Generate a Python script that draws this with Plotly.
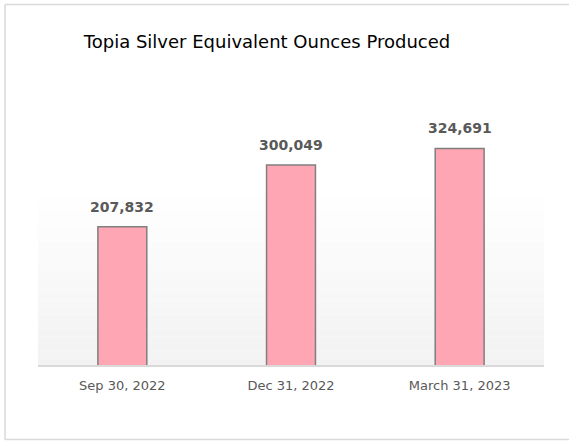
import plotly.graph_objects as go

categories = ["Sep 30, 2022", "Dec 31, 2022", "March 31, 2023"]
values = [207832, 300049, 324691]
title_text = "Topia Silver Equivalent Ounces Produced"

W, H = 569, 441
ML, MR, MT, MB = 38, 25, 98, 75
PW, PH = W - ML - MR, H - MT - MB

fig = go.Figure()
fig.add_trace(go.Bar(
    x=categories, y=values, width=0.29,
    marker=dict(color="#FFA6B4", line=dict(color="#7F7F7F", width=1.5)),
    hoverinfo="skip",
))

# value labels
for c, v in zip(categories, values):
    fig.add_annotation(x=c, y=v, text=f"<b>{v:,}</b>", showarrow=False,
                       yanchor="bottom", yshift=10,
                       font=dict(family="DejaVu Sans", size=14, color="#595959"))

# gradient background bands
n = 24
top = 0.66
for i in range(n):
    y0 = top * i / n
    y1 = top * (i + 1) / n
    t = i / (n - 1)
    g = round(242 + (255 - 242) * t)
    fig.add_shape(type="rect", xref="paper", yref="paper", x0=0, x1=1, y0=y0, y1=y1,
                  fillcolor=f"rgb({g},{g},{g})", line=dict(width=0), layer="below")

# baseline
fig.add_shape(type="line", xref="paper", yref="paper", x0=0, x1=1, y0=0, y1=0,
              line=dict(color="#D9D9D9", width=2))

# outer border (left, top, bottom only visible)
bl = (5 - ML) / PW
br = (600 - ML) / PW
bb = (MT + PH - 439.5) / PH
bt = (MT + PH - 4.5) / PH
for x0, x1, y0, y1 in [(bl, br, bt, bt), (bl, br, bb, bb), (bl, bl, bb, bt)]:
    fig.add_shape(type="line", xref="paper", yref="paper", x0=x0, x1=x1, y0=y0, y1=y1,
                  line=dict(color="#D9D9D9", width=1.5))

fig.update_layout(
    width=W, height=H,
    margin=dict(l=ML, r=MR, t=MT, b=MB),
    paper_bgcolor="white", plot_bgcolor="white",
    showlegend=False,
    title=dict(text=title_text, x=267 / W, xanchor="center", xref="container",
               y=1 - 42 / H, yanchor="middle", yref="container",
               font=dict(family="DejaVu Sans", size=18, color="#000000")),
    xaxis=dict(showgrid=False, showline=False, ticks="", zeroline=False,
               ticklabelstandoff=10,
               tickfont=dict(family="DejaVu Sans", size=13, color="#595959")),
    yaxis=dict(range=[0, 400000], visible=False, showgrid=False, zeroline=False),
)

fig.write_html("out.html")
